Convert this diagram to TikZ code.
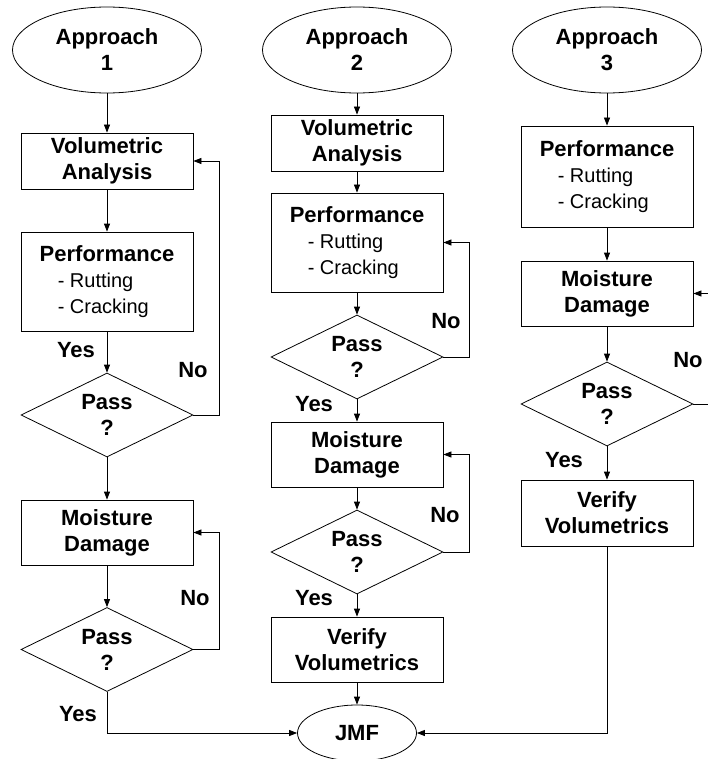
\documentclass[tikz,border=0pt]{standalone}
\usepackage{fontspec}
\setmainfont{Liberation Sans}
\usetikzlibrary{shapes.geometric,arrows.meta}
\newcommand\bigbold{\fontsize{22}{26}\selectfont\bfseries}
\newcommand\regtxt{\fontsize{20}{26}\selectfont\mdseries}
\begin{document}
\begin{tikzpicture}[x=1pt,y=-1pt,
  line width=0.8pt,
  every node/.style={font=\bigbold, align=center, inner sep=0pt},
  term/.style={draw, ellipse},
  proc/.style={draw, rectangle, minimum width=172pt},
  dec/.style={draw, diamond, aspect=2, minimum width=172pt, minimum height=84pt},
  arr/.style={-{Triangle[length=8pt,width=6pt]}}
]
\useasboundingbox (0,0) rectangle (707,759);
\fill[white] (0,0) rectangle (707,759);

% Column 1
\node[term, minimum width=189pt, minimum height=86pt] (a1) at (107,50) {Approach\\1};
\node[proc, minimum height=56pt] (va1) at (107,161) {Volumetric\\Analysis};
\node[proc, minimum height=99pt, align=left] (pf1) at (107,281.5) {Performance\\\hspace*{18pt}{\regtxt - Rutting}\\\hspace*{18pt}{\regtxt - Cracking}};
\node[dec] (d1) at (107,415) {Pass\\?};
\node[proc, minimum height=65pt] (md1) at (107,532.5) {Moisture\\Damage};
\node[dec] (d2) at (107,649.5) {Pass\\?};

% Column 2
\node[term, minimum width=189pt, minimum height=86pt] (a2) at (357,50) {Approach\\2};
\node[proc, minimum height=56pt] (va2) at (357,143) {Volumetric\\Analysis};
\node[proc, minimum height=99pt, align=left] (pf2) at (357,242.5) {Performance\\\hspace*{18pt}{\regtxt - Rutting}\\\hspace*{18pt}{\regtxt - Cracking}};
\node[dec] (d3) at (357,357) {Pass\\?};
\node[proc, minimum height=65pt] (md2) at (357,454.5) {Moisture\\Damage};
\node[dec] (d4) at (357,552) {Pass\\?};
\node[proc, minimum height=65pt] (vv2) at (357,649.5) {Verify\\Volumetrics};
\node[term, minimum width=119pt, minimum height=56pt] (jmf) at (357,733) {JMF};

% Column 3
\node[term, minimum width=189pt, minimum height=86pt] (a3) at (607,50) {Approach\\3};
\node[proc, minimum height=101pt, align=left] (pf3) at (607,176.5) {Performance\\\hspace*{18pt}{\regtxt - Rutting}\\\hspace*{18pt}{\regtxt - Cracking}};
\node[proc, minimum height=65pt] (md3) at (607,293.5) {Moisture\\Damage};
\node[dec] (d5) at (607,404) {Pass\\?};
\node[proc, minimum height=66pt] (vv3) at (607,513) {Verify\\Volumetrics};

% Labels
\node (y1) at (76,350) {Yes};
\node (n1) at (193,370) {No};
\node (n2) at (195,598) {No};
\node (y2) at (78,714) {Yes};
\node (n3) at (446,321) {No};
\node (y3) at (314,404) {Yes};
\node (n4) at (445,515) {No};
\node (y4) at (314,598) {Yes};
\node (n5) at (688,360) {No};
\node (y5) at (564,460) {Yes};

% Connectors column 1
\draw[arr] (a1) -- (va1);
\draw[arr] (va1) -- (pf1);
\draw[arr] (pf1) -- (d1);
\draw[arr] (d1) -- (md1);
\draw[arr] (md1) -- (d2);
\draw[arr] (d1.east) -- ++(26,0) |- (va1.east);
\draw[arr] (d2.east) -- ++(26,0) |- (md1.east);
\draw[arr] (d2.south) |- (jmf.west);

% Connectors column 2
\draw[arr] (a2) -- (va2);
\draw[arr] (va2) -- (pf2);
\draw[arr] (pf2) -- (d3);
\draw[arr] (d3) -- (md2);
\draw[arr] (md2) -- (d4);
\draw[arr] (d4) -- (vv2);
\draw[arr] (vv2) -- (jmf);
\draw[arr] (d3.east) -- ++(26,0) |- (pf2.east);
\draw[arr] (d4.east) -- ++(26,0) |- (md2.east);

% Connectors column 3
\draw[arr] (a3) -- (pf3);
\draw[arr] (pf3) -- (md3);
\draw[arr] (md3) -- (d5);
\draw[arr] (d5) -- (vv3);
\draw[arr] (d5.east) -- ++(20,0) |- (md3.east);
\draw[arr] (vv3.south) |- (jmf.east);
\end{tikzpicture}
\end{document}
